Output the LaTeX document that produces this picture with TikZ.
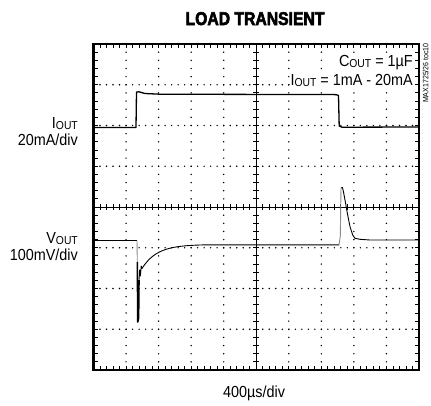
\documentclass[tikz,border=0pt]{standalone}
\usepackage{fontspec}
\setmainfont{Liberation Sans}[FakeStretch=0.9]
\newfontfamily\titlefont{Liberation Sans Bold}[FakeStretch=0.85,FakeBold=3]
\newcommand\sbsc[1]{\raisebox{-0.15ex}{\fontsize{11.5}{11.5}\selectfont #1}}
\begin{document}
\begin{tikzpicture}[x=1pt,y=-1pt,
  lbl/.style={inner sep=0pt,font=\fontsize{16}{16}\selectfont},
  boxlbl/.style={lbl,fill=white,inner sep=1pt},
  frame/.style={line width=2.6pt},
  axisline/.style={line width=0.9pt},
  tickline/.style={line width=0.9pt},
  griddot/.style={fill=black},
  trace/.style={line width=1.3pt,line join=round},
  thintrace/.style={line width=0.9pt,line join=round},
  fasttrace/.style={line width=0.9pt,draw=black!45}]
\useasboundingbox (0,0) rectangle (431,405);
\def\XO{93.5}\def\XE{419}\def\YO{44}\def\YE{370}
\def\DX{32.55}\def\DY{40.75}
% dotted grid lines
\foreach \k in {1,2,3,5,6,7}{
  \foreach \j in {1,...,49}{
    \fill[griddot] ({\XO+\j*\DX/5},{\YO+\k*\DY}) circle (0.8);
  }
}
\foreach \i in {1,2,3,4,6,7,8,9}{
  \foreach \j in {1,...,39}{
    \fill[griddot] ({\XO+\i*\DX},{\YO+\j*\DY/5}) circle (0.8);
  }
}
% centre cross with ticks
\draw[axisline] (\XO,207) -- (\XE,207);
\draw[axisline] (256.25,\YO) -- (256.25,\YE);
\foreach \j in {1,...,49}{
  \draw[tickline] ({\XO+\j*\DX/5},204) -- ({\XO+\j*\DX/5},210);
}
\foreach \j in {1,...,39}{
  \draw[tickline] (253.25,{\YO+\j*\DY/5}) -- (259.25,{\YO+\j*\DY/5});
}
% frame ticks
\foreach \j in {1,...,49}{
  \draw[tickline] ({\XO+\j*\DX/5},\YO) -- ({\XO+\j*\DX/5},{\YO+4});
  \draw[tickline] ({\XO+\j*\DX/5},\YE) -- ({\XO+\j*\DX/5},{\YE-4});
}
\foreach \j in {1,...,39}{
  \draw[tickline] (\XO,{\YO+\j*\DY/5}) -- ({\XO+4},{\YO+\j*\DY/5});
  \draw[tickline] (\XE,{\YO+\j*\DY/5}) -- ({\XE-4},{\YO+\j*\DY/5});
}
% frame
\draw[frame] (\XO,\YO) rectangle (\XE,\YE);
% I_OUT trace
\draw[trace] (\XO,127.5) -- (136,127.5) -- (136.5,92) -- (139,91.8) -- (145,93.5)
  -- (160,94.2) -- (336,94.6) -- (338.5,95.5) -- (339.2,126) -- (342,127.2) -- (\XE,127);
% V_OUT trace
\draw[trace] (\XO,240.5) -- (137,240.5);
\draw[fasttrace] (137,240.5) -- (137.3,262);
\draw[trace,line width=1.6pt] (137.3,262) -- (137.8,322) -- (138.6,318) -- (139,280);
\draw[thintrace] (139,280) -- (139.6,270) -- (140.4,276) -- (141.2,266) -- (142,268.5)
  -- plot[domain=142:205,samples=40] (\x,{244.5+24*exp(-(\x-142)/15)})
  -- (339,244.8);
\draw[fasttrace] (339,244.8) -- (340.3,236) -- (341,188);
\draw[thintrace] (341,188) -- (342.5,187.5) -- (343.5,192) -- (345,200) -- (347.3,213)
  -- (350,226.7) -- (352.7,235) -- (355,238.3) -- (360,239.3) -- (370,240) -- (\XE,240);
% texts
\node[inner sep=0pt,anchor=base,font=\titlefont\fontsize{18.5}{18.5}\selectfont] (title) at (255,25) {LOAD TRANSIENT};
\node[boxlbl,anchor=base east] (cout) at (414,66) {C\sbsc{OUT} = 1\textmu F};
\node[boxlbl,anchor=base east] (iout) at (414,85) {I\sbsc{OUT} = 1mA - 20mA};
\node[lbl,anchor=base east] (ilab) at (78,128) {I\sbsc{OUT}};
\node[lbl,anchor=base east] (iscale) at (78,145) {20mA/div};
\node[lbl,anchor=base east] (vlab) at (78,243) {V\sbsc{OUT}};
\node[lbl,anchor=base east] (vscale) at (78,260) {100mV/div};
\node[lbl,anchor=base] (tscale) at (254,397) {400\textmu s/div};
\node[inner sep=0pt,rotate=90,anchor=north east,font=\fontsize{7.8}{7.8}\selectfont] (code) at (422.5,43) {MAX1725/26 toc10};
\end{tikzpicture}
\end{document}
